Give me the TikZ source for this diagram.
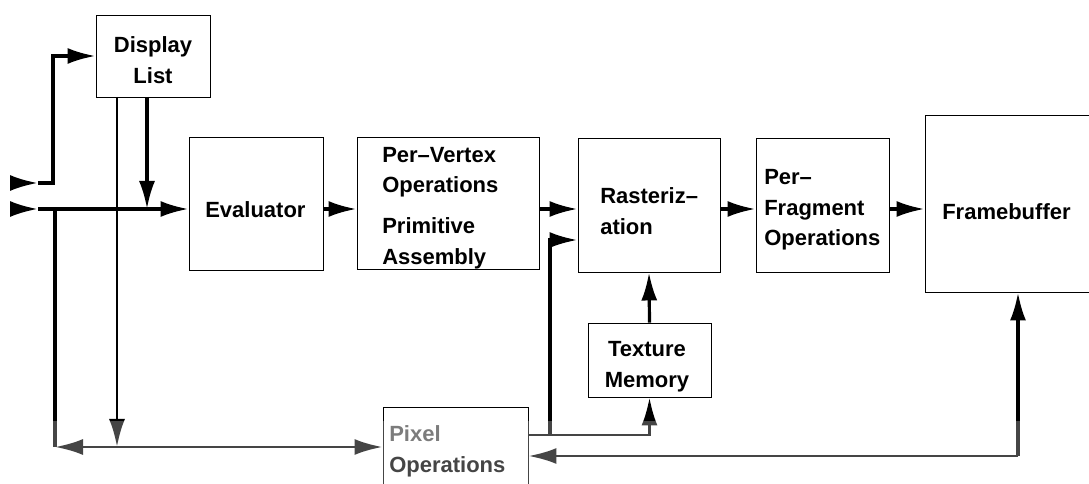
\documentclass[tikz,border=0pt]{standalone}
\usepackage{fontspec}
\setmainfont{Liberation Sans}
\usetikzlibrary{arrows.meta}

\begin{document}
\begin{tikzpicture}[x=0.75pt,y=0.75pt,yscale=-1,xscale=1,
    >={Latex[length=21pt,width=12pt]},
    blk/.style={draw,line width=0.7pt,inner sep=0pt},
    txt/.style={inner sep=0pt,align=center,font=\bfseries\fontsize{16.5}{23}\selectfont},
    wire/.style={line width=2.4pt},
    bus/.style={line width=2.1pt}]
    \useasboundingbox (0,0) rectangle (1089,484);

    %Blocks
    \node[blk,minimum width=85.5pt,minimum height=61.5pt] (disp) at (153,56) {};
    \node[blk,minimum width=100.5pt,minimum height=99.75pt] (eval) at (256,203.5) {};
    \node[blk,minimum width=136.5pt,minimum height=99pt] (pvo) at (448,203) {};
    \node[blk,minimum width=106.5pt,minimum height=100.5pt] (rast) at (649,205) {};
    \node[blk,minimum width=99.75pt,minimum height=100.5pt] (pfo) at (822.5,205) {};
    \node[blk,minimum width=139.5pt,minimum height=132.75pt] (fb) at (1018,203.5) {};
    \node[blk,minimum width=92.25pt,minimum height=55.5pt] (tex) at (649.5,360) {};
    \node[blk,minimum width=108.75pt,minimum height=60pt] (pix) at (455.5,447) {};

    % Text Nodes
    \node[txt] (disp-t) at (153,60) {Display\\List};
    \node[txt,anchor=west] (eval-t) at (205,210) {Evaluator};
    \node[txt,anchor=west,align=left] (pvo-t) at (382,208) {Per--Vertex\\Operations\\[7.5pt]Primitive\\Assembly};
    \node[txt,anchor=west,align=left] (rast-t) at (600,211) {Rasteriz--\\ation};
    \node[txt,anchor=west,align=left] (pfo-t) at (764,210) {Per--\\Fragment\\Operations};
    \node[txt,anchor=west] (fb-t) at (942,212) {Framebuffer};
    \node[txt] (tex-t) at (647,367) {Texture\\Memory};
    \node[txt,anchor=west,align=left] (pix-t) at (389,451) {{\color{black!70}Pixel}\\Operations};

    %Bend points
    \coordinate (in1) at (13,183);
    \coordinate (in1h) at (38,183);
    \coordinate (k1) at (53,183);
    \coordinate (in2) at (13,209);
    \coordinate (in2h) at (38,209);
    \coordinate (main) at (0,209);
    \coordinate (dlL) at (117,97);
    \coordinate (dlR) at (147,97);
    \coordinate (j1) at (55,209);
    \coordinate (c1) at (55,447);
    \coordinate (pxo) at (528,435);
    \coordinate (pxj) at (550,435);
    \coordinate (rin) at (rast.west |- 0,240);
    \coordinate (fbr) at (1018,456);

    %Inputs
    \draw[wire,->] (in1) -- (in1h);
    \draw[wire,->] (in1h) -- (k1) |- (disp.west);
    \draw[wire,->] (in2) -- (in2h);
    \draw[wire,->] (in2h) -- (in2h -| eval.west);

    %Display list outputs
    \draw[wire,->] (dlR) -- (dlR |- in2);
    \draw[bus,->] (dlL) -- (dlL |- c1);

    %Left bus to pixel operations
    \draw[wire] (j1) -- (c1);
    \draw[bus,<->] (c1) -- (pix.west);

    %Pipeline
    \draw[wire,->] (eval.east |- main) -- (pvo.west |- main);
    \draw[wire,->] (pvo.east |- main) -- (rast.west |- main);
    \draw[wire,->] (rast.east |- main) -- (pfo.west |- main);
    \draw[wire,->] (pfo.east |- main) -- (fb.west |- main);

    %Texture memory
    \draw[wire,->] (tex.north) -- (rast.south);

    %Pixel operations out
    \draw[bus] (pxo) -- (pxj);
    \draw[wire,->] (pxj) |- (rin);
    \draw[bus,->] (pxj) -| (tex.south);

    %Framebuffer read back
    \draw[bus,<-] (pix.east |- fbr) -- (fbr);
    \draw[wire,->] (fbr) -- (fb.south);

    %lighter strip along the bottom
    \fill[white,opacity=0.27] (43,421) rectangle (1066,484);

\end{tikzpicture}
\end{document}
